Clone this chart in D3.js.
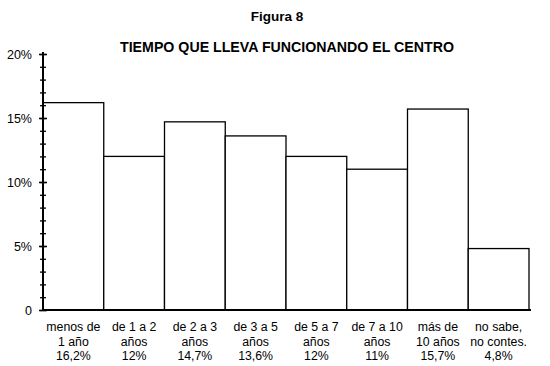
<!DOCTYPE html>
<html><head><meta charset="utf-8">
<script src="https://cdn.jsdelivr.net/npm/d3@7"></script>
<style>body{margin:0;background:#fff}svg{display:block}text{font-family:"Liberation Sans",Arial,sans-serif;fill:#000}</style>
</head><body>
<svg id="c" width="550" height="366"></svg>
<script>
const categories = ["menos de|1 año", "de 1 a 2|años", "de 2 a 3|años", "de 3 a 5|años", "de 5 a 7|años", "de 7 a 10|años", "más de|10 años", "no sabe,|no contes."];
const values = [16.2, 12, 14.7, 13.6, 12, 11, 15.7, 4.8];
const valueLabels = ["16,2%", "12%", "14,7%", "13,6%", "12%", "11%", "15,7%", "4,8%"];
const yTicks = [0, 5, 10, 15, 20];
const yTickLabels = ["0", "5%", "10%", "15%", "20%"];

const svg = d3.select("#c");
const x = d3.scaleBand().domain(d3.range(categories.length)).range([43, 529]).padding(0);
const y = d3.scaleLinear().domain([0, 20]).range([310, 54]);

svg.append("text").attr("x", 277).attr("y", 21).attr("text-anchor", "middle")
  .attr("font-weight", "bold").attr("font-size", 13.5).text("Figura 8");
svg.append("text").attr("x", 287).attr("y", 52).attr("text-anchor", "middle")
  .attr("font-weight", "bold").attr("font-size", 14.2).text("TIEMPO QUE LLEVA FUNCIONANDO EL CENTRO");

svg.selectAll("rect.bar").data(values).join("rect").attr("class", "bar")
  .attr("x", (d, i) => x(i)).attr("width", x.bandwidth())
  .attr("y", d => y(d)).attr("height", d => y(0) - y(d))
  .attr("fill", "#fff").attr("stroke", "#000").attr("stroke-width", 1.3);

// minor ticks
const minor = svg.append("g").attr("transform", "translate(43,0)")
  .call(d3.axisLeft(y).tickValues(d3.range(0, 21, 1)).tickSize(3).tickFormat(""));
minor.select(".domain").remove();
minor.selectAll(".tick line").attr("x2", 3).attr("x1", -3).attr("stroke-width", 1.3);

const yAxis = svg.append("g").attr("transform", "translate(43,0)")
  .call(d3.axisLeft(y).tickValues(yTicks).tickSize(4).tickPadding(7).tickFormat((d, i) => yTickLabels[i]));
yAxis.select(".domain").attr("stroke-width", 2).attr("d", "M0,52V311");
yAxis.selectAll(".tick line").attr("x1", -4).attr("x2", 4).attr("stroke-width", 1.5);
yAxis.selectAll(".tick text").attr("font-size", 12.5).attr("font-family", "Liberation Sans, Arial, sans-serif");

const xAxis = svg.append("g").attr("transform", "translate(0,310)")
  .call(d3.axisBottom(x).tickSize(0).tickFormat(""));
xAxis.select(".domain").attr("stroke-width", 2).attr("d", "M42,0H531");

const lab = svg.append("g").selectAll("text").data(categories).join("text")
  .attr("text-anchor", "middle").attr("font-size", 12.3)
  .attr("x", (d, i) => x(i) + x.bandwidth() / 2);
lab.each(function (d, i) {
  const parts = d.split("|").concat([valueLabels[i]]);
  const t = d3.select(this);
  parts.forEach((p, k) => t.append("tspan").attr("x", x(i) + x.bandwidth() / 2).attr("y", 331 + k * 14.5).text(p));
});
</script>
</body></html>
